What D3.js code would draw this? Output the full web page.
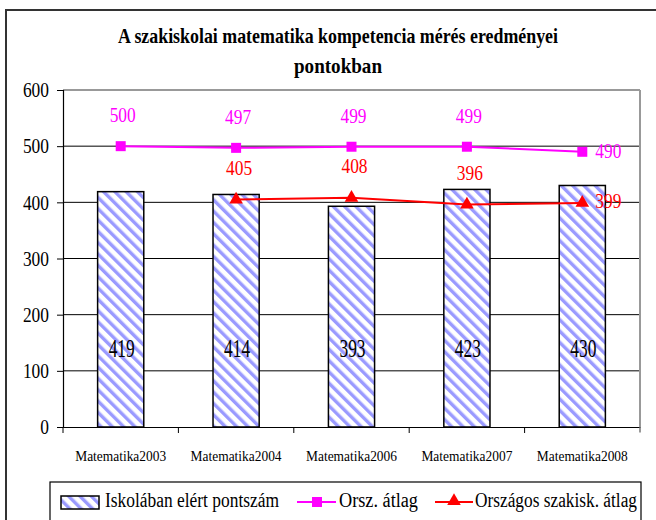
<!DOCTYPE html>
<html><head><meta charset="utf-8">
<script src="https://cdn.jsdelivr.net/npm/d3@7"></script>
<style>
body{margin:0;background:#fff;}
svg{display:block;}
svg text{font-family:"Liberation Serif","Times New Roman",serif !important;}
</style></head>
<body><svg id="c" width="656" height="520"></svg>
<script>
const categories = ["Matematika2003","Matematika2004","Matematika2006","Matematika2007","Matematika2008"];
const schoolScores = [419, 414, 393, 423, 430];
const nationalAvg = [500, 497, 499, 499, 490];
const vocationalAvg = [null, 405, 408, 396, 399];
const yTicks = [0, 100, 200, 300, 400, 500, 600];
const titleLines = ["A szakiskolai matematika kompetencia mérés eredményei", "pontokban"];
const legendLabels = ["Iskolában elért pontszám", "Orsz. átlag", "Országos szakisk. átlag"];

const svg = d3.select("#c");
const L = 63, R = 640, T = 90, B = 427;
const digitW = 8.7; // condensed digit width

// pattern
const defs = svg.append("defs");
const pat = defs.append("pattern").attr("id","stripes").attr("patternUnits","userSpaceOnUse")
  .attr("width",8).attr("height",8).attr("patternTransform","rotate(-45)");
pat.append("rect").attr("width",8).attr("height",8).attr("fill","#fff");
pat.append("rect").attr("x",0).attr("y",0).attr("width",3.4).attr("height",8).attr("fill","#9a9aff");

// outer border
svg.append("rect").attr("x",6).attr("y",10).attr("width",700).attr("height",600)
  .attr("fill","none").attr("stroke","#333").attr("stroke-width",2);

// title
const titleW = [440, 88];
svg.append("g").selectAll("text").data(titleLines).join("text")
  .attr("x",338).attr("y",(d,i)=>43+i*30).attr("text-anchor","middle")
  .attr("font-weight","bold").attr("font-size",22).attr("fill","#000")
  .attr("textLength",(d,i)=>titleW[i]).attr("lengthAdjust","spacingAndGlyphs")
  .text(d=>d);

const x = d3.scaleBand().domain(categories).range([L,R]).paddingInner(0).paddingOuter(0);
const y = d3.scaleLinear().domain([0,600]).range([B,T]);
const cx = d => x(d) + x.bandwidth()/2;
const barW = x.bandwidth()*0.4;

// gridlines
svg.append("g").selectAll("line").data(yTicks.filter(t=>t>0 && t<600)).join("line")
  .attr("x1",L).attr("x2",R).attr("y1",d=>y(d)).attr("y2",d=>y(d))
  .attr("stroke","#000").attr("stroke-width",1);

// plot border top/right
svg.append("line").attr("x1",L).attr("x2",R).attr("y1",T).attr("y2",T).attr("stroke","#999").attr("stroke-width",2);
svg.append("line").attr("x1",R).attr("x2",R).attr("y1",T).attr("y2",B+5).attr("stroke","#999").attr("stroke-width",2);

// bars
svg.append("g").selectAll("rect").data(schoolScores).join("rect")
  .attr("x",(d,i)=>cx(categories[i])-barW/2).attr("width",barW)
  .attr("y",d=>y(d)).attr("height",d=>B-y(d))
  .attr("fill","url(#stripes)").attr("stroke","#000").attr("stroke-width",1.5);

// bar labels
svg.append("g").selectAll("text").data(schoolScores).join("text")
  .attr("x",(d,i)=>cx(categories[i])+1).attr("y",357).attr("text-anchor","middle")
  .attr("font-size",25).attr("fill","#000")
  .attr("textLength",d=>String(d).length*digitW).attr("lengthAdjust","spacingAndGlyphs")
  .text(d=>d);

// axes
const yAxis = svg.append("g").attr("transform",`translate(${L},0)`)
  .call(d3.axisLeft(y).tickValues(yTicks).tickSize(6).tickPadding(8));
yAxis.select(".domain").attr("stroke","#000").attr("stroke-width",1.2);
yAxis.selectAll("text").attr("font-size",20).attr("fill","#000").attr("dy","0.34em")
  .attr("textLength",d=>String(d).length*digitW).attr("lengthAdjust","spacingAndGlyphs");
yAxis.selectAll(".tick line").attr("stroke","#000");

const xAxis = svg.append("g").attr("transform",`translate(0,${B})`)
  .call(d3.axisBottom(x).tickSize(0).tickPadding(24));
xAxis.select(".domain").attr("stroke","#000").attr("stroke-width",1.2);
xAxis.selectAll("text").attr("font-size",14).attr("fill","#000")
  .attr("textLength",91).attr("lengthAdjust","spacingAndGlyphs");
// category boundary ticks
svg.append("g").selectAll("line").data(d3.range(categories.length+1)).join("line")
  .attr("x1",i=>L+i*x.bandwidth()).attr("x2",i=>L+i*x.bandwidth())
  .attr("y1",B).attr("y2",B+6).attr("stroke",(d,i)=>i===categories.length?"#999":"#000").attr("stroke-width",1);

// national average line
const magenta = "#ff00ff", red = "#ff0000";
const nat = nationalAvg.map((v,i)=>({c:categories[i],v}));
svg.append("path").datum(nat)
  .attr("d",d3.line().x(d=>cx(d.c)).y(d=>y(d.v)))
  .attr("fill","none").attr("stroke",magenta).attr("stroke-width",2);
svg.append("g").selectAll("rect").data(nat).join("rect")
  .attr("x",d=>cx(d.c)-5).attr("y",d=>y(d.v)-5).attr("width",10).attr("height",10).attr("fill",magenta);
svg.append("g").selectAll("text").data(nat).join("text")
  .attr("x",(d,i)=>i===nat.length-1? cx(d.c)+13 : cx(d.c)+2)
  .attr("y",(d,i)=>i===nat.length-1? y(d.v)+6 : y(d.v)-24)
  .attr("text-anchor",(d,i)=>i===nat.length-1?"start":"middle")
  .attr("font-size",22).attr("fill",magenta)
  .attr("textLength",d=>String(d.v).length*digitW).attr("lengthAdjust","spacingAndGlyphs")
  .text(d=>d.v);

// vocational average line
const voc = vocationalAvg.map((v,i)=>({c:categories[i],v})).filter(d=>d.v!==null);
svg.append("path").datum(voc)
  .attr("d",d3.line().x(d=>cx(d.c)).y(d=>y(d.v)))
  .attr("fill","none").attr("stroke",red).attr("stroke-width",2);
const tri = d3.symbol().type(d3.symbolTriangle).size(80);
svg.append("g").selectAll("path").data(voc).join("path")
  .attr("transform",d=>`translate(${cx(d.c)},${y(d.v)})`).attr("d",tri).attr("fill",red);
svg.append("g").selectAll("text").data(voc).join("text")
  .attr("x",(d,i)=>i===voc.length-1? cx(d.c)+13 : cx(d.c)+3)
  .attr("y",(d,i)=>i===voc.length-1? y(d.v)+5 : y(d.v)-25)
  .attr("text-anchor",(d,i)=>i===voc.length-1?"start":"middle")
  .attr("font-size",22).attr("fill",red)
  .attr("textLength",d=>String(d.v).length*digitW).attr("lengthAdjust","spacingAndGlyphs")
  .text(d=>d.v);

// legend
svg.append("rect").attr("x",50).attr("y",482).attr("width",591).attr("height",60)
  .attr("fill","#fff").attr("stroke","#000").attr("stroke-width",1.2);
const lg = svg.append("g");
lg.append("rect").attr("x",61).attr("y",496).attr("width",38).attr("height",13)
  .attr("fill","url(#stripes)").attr("stroke","#000").attr("stroke-width",1.5);
lg.append("line").attr("x1",297).attr("x2",336).attr("y1",502).attr("y2",502).attr("stroke",magenta).attr("stroke-width",2);
lg.append("rect").attr("x",312).attr("y",497).attr("width",10).attr("height",10).attr("fill",magenta);
lg.append("line").attr("x1",435).attr("x2",473).attr("y1",502).attr("y2",502).attr("stroke",red).attr("stroke-width",2);
lg.append("path").attr("transform","translate(454,501)").attr("d",tri).attr("fill",red);
const lx = [105, 339, 475];
const lw = [174, 79, 162];
lg.selectAll("text").data(legendLabels).join("text")
  .attr("x",(d,i)=>lx[i]).attr("y",507).attr("font-size",20).attr("fill","#000")
  .attr("textLength",(d,i)=>lw[i]).attr("lengthAdjust","spacingAndGlyphs")
  .text(d=>d);
</script></body></html>
